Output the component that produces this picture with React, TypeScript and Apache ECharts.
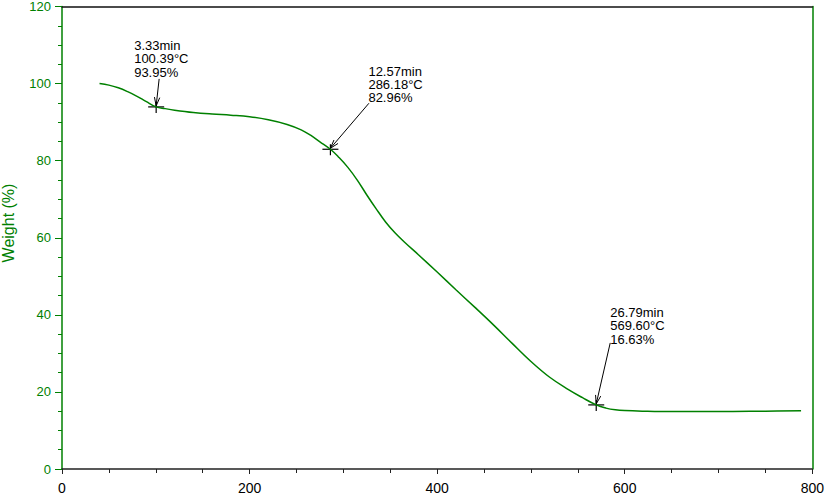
import React, { useEffect, useRef } from "react";
import * as echarts from "echarts";

// TGA curve: temperature (°C) vs weight (%)
const temperatures = [40, 50, 60, 70, 80, 90, 100.39, 110, 120, 140, 160, 180, 200, 220, 240, 255, 265, 275, 286.18, 295, 305, 315, 325, 335, 345, 355, 365, 380, 400, 420, 440, 460, 480, 500, 520, 540, 555, 569.6, 580, 590, 600, 620, 650, 700, 750, 788];
const weights = [100, 99.6, 98.9, 97.9, 96.7, 95.3, 93.95, 93.5, 93.1, 92.5, 92.1, 91.8, 91.4, 90.6, 89.4, 88.0, 86.6, 84.9, 82.96, 80.9, 78.2, 74.9, 71.1, 67.5, 64.1, 61.3, 58.9, 55.6, 51.1, 46.5, 42.0, 37.4, 32.6, 27.9, 23.8, 20.6, 18.5, 16.63, 15.8, 15.35, 15.15, 15.0, 14.9, 14.9, 15.0, 15.1];

// Annotated points
const annMinutes = [3.33, 12.57, 26.79];
const annTemps = [100.39, 286.18, 569.6];
const annWeights = [93.95, 82.96, 16.63];

// Axis ticks
const xTicks = { min: 0, max: 800, interval: 200 };
const yTicks = { min: 0, max: 120, interval: 20 };

// Label placement relative to the marked point (pixels)
const annLayout = [
  { textDx: -22, textDy: -61.5, arrowDx: 3, arrowDy: -28 },
  { textDx: 38, textDy: -78, arrowDx: 38.5, arrowDy: -46 },
  { textDx: 14, textDy: -92.3, arrowDx: 14, arrowDy: -62 },
];
const LINE_GAP = 13.3;

const GREEN = "#008000";

export default function App() {
  const ref = useRef<HTMLDivElement>(null);
  useEffect(() => {
    if (!ref.current) return;
    const chart = echarts.init(ref.current, null, { renderer: "svg" });
    const curve = temperatures.map((t, i) => [t, weights[i]]);
    const annData = annTemps.map((t, i) => [t, annWeights[i], i]);

    chart.setOption({
      animation: false,
      backgroundColor: "#fff",
      grid: { left: 62, right: 12, top: 4, bottom: 25 },
      xAxis: [
        {
          type: "value",
          position: "bottom",
          min: xTicks.min,
          max: xTicks.max,
          interval: xTicks.interval,
          axisLine: { show: true, onZero: false, lineStyle: { color: "#222", width: 1.5 } },
          axisTick: { show: true, inside: false, length: 5, lineStyle: { color: "#222", width: 1 } },
          minorTick: { show: true, splitNumber: 4, length: 4, lineStyle: { color: "#222", width: 1 } },
          axisLabel: { color: "#000", fontSize: 14, fontFamily: "Liberation Sans, Arial, sans-serif", margin: 12 },
          splitLine: { show: false },
        },
        {
          type: "value",
          position: "top",
          min: xTicks.min,
          max: xTicks.max,
          axisLine: { show: true, onZero: false, lineStyle: { color: "#111", width: 1.5 } },
          axisTick: { show: false },
          axisLabel: { show: false },
          splitLine: { show: false },
        },
      ],
      yAxis: [
        {
          type: "value",
          position: "left",
          min: yTicks.min,
          max: yTicks.max,
          interval: yTicks.interval,
          axisLine: { show: true, onZero: false, lineStyle: { color: GREEN, width: 1.5 } },
          axisTick: { show: true, length: 7, lineStyle: { color: GREEN, width: 1 } },
          minorTick: { show: true, splitNumber: 4, length: 4, lineStyle: { color: GREEN, width: 1 } },
          axisLabel: { color: GREEN, fontSize: 13, fontFamily: "Liberation Sans, Arial, sans-serif", margin: 11 },
          splitLine: { show: false },
        },
        {
          type: "value",
          position: "right",
          min: yTicks.min,
          max: yTicks.max,
          axisLine: { show: true, onZero: false, lineStyle: { color: GREEN, width: 1.5 } },
          axisTick: { show: false },
          axisLabel: { show: false },
          splitLine: { show: false },
        },
      ],
      graphic: [
        {
          type: "text",
          x: 8,
          y: 223,
          rotation: Math.PI / 2,
          style: {
            text: "Weight (%)",
            fill: GREEN,
            font: "16px 'Liberation Sans', Arial, sans-serif",
            textAlign: "center",
            textVerticalAlign: "middle",
          },
        },
      ],
      series: [
        {
          type: "line",
          data: curve,
          smooth: 0.4,
          showSymbol: false,
          symbol: "none",
          lineStyle: { color: GREEN, width: 1.5 },
          xAxisIndex: 0,
          yAxisIndex: 0,
        },
        {
          type: "custom",
          xAxisIndex: 0,
          yAxisIndex: 0,
          clip: false,
          data: annData,
          encode: { x: 0, y: 1 },
          renderItem: (params: any, api: any) => {
            const idx = api.value(2);
            const p = api.coord([api.value(0), api.value(1)]);
            const L = annLayout[idx];
            const sx = p[0] + L.arrowDx;
            const sy = p[1] + L.arrowDy;
            const ex = p[0];
            const ey = p[1] - 1;
            const ang = Math.atan2(ey - sy, ex - sx);
            const hl = 9;
            const ha = 0.3;
            const h1 = [ex - hl * Math.cos(ang - ha), ey - hl * Math.sin(ang - ha)];
            const h2 = [ex - hl * Math.cos(ang + ha), ey - hl * Math.sin(ang + ha)];
            const lines = [
              annMinutes[idx].toFixed(2) + "min",
              annTemps[idx].toFixed(2) + "°C",
              annWeights[idx].toFixed(2) + "%",
            ];
            const stroke = { stroke: "#000", lineWidth: 1.2 };
            const textEls = lines.map((t, i) => ({
              type: "text",
              x: p[0] + L.textDx,
              y: p[1] + L.textDy + i * LINE_GAP,
              style: {
                text: t,
                fill: "#000",
                font: "13px 'Liberation Sans', Arial, sans-serif",
                textAlign: "left",
                textVerticalAlign: "middle",
              },
            }));
            return {
              type: "group",
              children: [
                { type: "line", shape: { x1: p[0] - 8, y1: p[1], x2: p[0] + 8, y2: p[1] }, style: stroke },
                { type: "line", shape: { x1: p[0], y1: p[1] - 5, x2: p[0], y2: p[1] + 6 }, style: stroke },
                { type: "line", shape: { x1: sx, y1: sy, x2: ex, y2: ey }, style: { stroke: "#000", lineWidth: 1 } },
                { type: "polyline", shape: { points: [h1, [ex, ey], h2] }, style: { stroke: "#000", lineWidth: 1, fill: null } },
                ...textEls,
              ],
            };
          },
        },
      ],
    });
    return () => chart.dispose();
  }, []);
  return (
    <div
      ref={ref}
      style={{ position: "fixed", left: 0, top: 0, width: 827, height: 495 }}
    />
  );
}
